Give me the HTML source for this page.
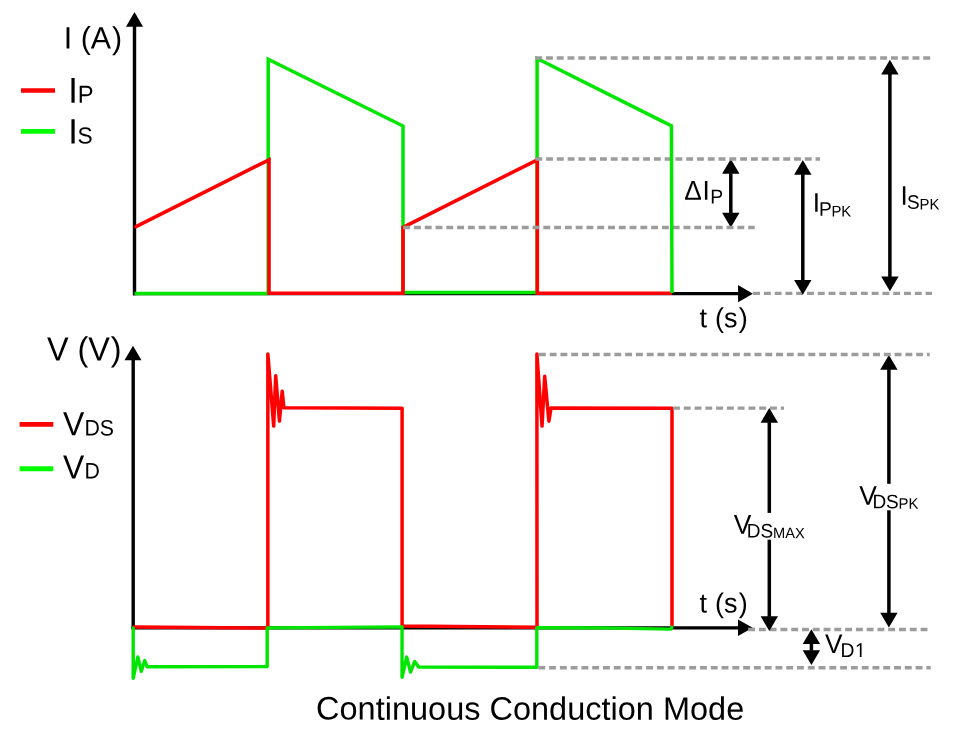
<!DOCTYPE html>
<html>
<head>
<meta charset="utf-8">
<title>Continuous Conduction Mode</title>
<style>
html,body{margin:0;padding:0;background:#fff;}
body{width:964px;height:732px;overflow:hidden;}
svg{display:block;will-change:transform;}
text{font-family:"Liberation Sans",Arial,Helvetica,sans-serif;fill:#000;font-kerning:none;}
</style>
</head>
<body>
<svg width="964" height="732" viewBox="0 0 964 732">
<rect width="964" height="732" fill="#fff"/>
<g id="axes">
<path d="M134.5 295.2 L134.5 26" fill="none" stroke="#000" stroke-width="3.4" stroke-linejoin="miter" stroke-linecap="butt"/>
<path d="M134.5 12 L143 26.8 L126 26.8Z" fill="#000"/>
<path d="M133 293.6 L738.5 293.6" fill="none" stroke="#000" stroke-width="3.4" stroke-linejoin="miter" stroke-linecap="butt"/>
<path d="M752.9 293.65 L738.05 302.25 L738.05 285.05Z" fill="#000"/>
<path d="M133.2 629.5 L133.2 360" fill="none" stroke="#000" stroke-width="3.4" stroke-linejoin="miter" stroke-linecap="butt"/>
<path d="M133 345.7 L141.5 360.3 L124.5 360.3Z" fill="#000"/>
<path d="M131.6 627.9 L738.5 627.9" fill="none" stroke="#000" stroke-width="3.4" stroke-linejoin="miter" stroke-linecap="butt"/>
<path d="M752.7 627.8 L738 636.1 L738 619.5Z" fill="#000"/>
</g>
<g id="current">
<path d="M134.5 293.6 L268.2 293.6 L268.2 59.3 L403 126 L403 292.4 L537.1 292.4 L537.1 58.5 L661 120.59" fill="none" stroke="#00e600" stroke-width="3.5" stroke-linejoin="miter" stroke-linecap="butt"/>
<path d="M134.5 227.4 L269 159.8 L269 293.2 L403 293.2 L403 227.4 L537.3 159.8 L537.3 293.3 L671.9 293.3" fill="none" stroke="#ff0000" stroke-width="3.6" stroke-linejoin="miter" stroke-linecap="butt"/>
</g>
<g id="voltage">
<path d="M134.2 626.95 L267.85 628 L267.85 353.9 L273.7 426.1 L275.7 375.8 L279.45 421 L282.2 391.2 L283.9 407.85 L402.1 408.3 L402.1 625.95 L537 627.2 L536.9 353.9 L542.05 426.1 L544.7 376.3 L548.9 421.2 L551 408.1 L672 408.2 L672 625.8" fill="none" stroke="#ff0000" stroke-width="3.5" stroke-linejoin="round" stroke-linecap="round"/>
<path d="M133.2 627.9 L133.2 678.3 L137.8 657 L141.3 671.3 L144.75 660.6 L147 666.7 L267.2 666.6 L267.2 627.9 L402.05 626.9 L402.05 677.3 L406.7 657.1 L410.5 672.1 L414.7 661.5 L418.6 667 L536.8 667.3 L536.8 627.6 L600 627.9 L670.7 629.1 L671.7 627.3" fill="none" stroke="#00e600" stroke-width="3.4" stroke-linejoin="round" stroke-linecap="round"/>
</g>
<g id="dims-a">
<path d="M730.8 159.1 L739.5 173.8 L722.1 173.8Z" fill="#000"/>
<path d="M730.8 227.4 L722.1 212.7 L739.5 212.7Z" fill="#000"/>
<path d="M730.8 173.3 L730.8 213.2" fill="none" stroke="#000" stroke-width="3.5" stroke-linejoin="miter" stroke-linecap="butt"/>
<path d="M889.9 59.8 L898.6 74.5 L881.2 74.5Z" fill="#000"/>
<path d="M889.9 291.3 L881.2 276.6 L898.6 276.6Z" fill="#000"/>
<path d="M889.9 74 L889.9 277.1" fill="none" stroke="#000" stroke-width="3.5" stroke-linejoin="miter" stroke-linecap="butt"/>
<path d="M888.9 355 L897.6 369.7 L880.2 369.7Z" fill="#000"/>
<path d="M888.9 627.4 L880.2 612.7 L897.6 612.7Z" fill="#000"/>
<path d="M888.9 369.2 L888.9 483.8" fill="none" stroke="#000" stroke-width="3.5" stroke-linejoin="miter" stroke-linecap="butt"/>
<path d="M888.9 510.3 L888.9 613.2" fill="none" stroke="#000" stroke-width="3.5" stroke-linejoin="miter" stroke-linecap="butt"/>
<path d="M811.4 629.2 L820.1 643.9 L802.7 643.9Z" fill="#000"/>
<path d="M811.4 665 L802.7 650.3 L820.1 650.3Z" fill="#000"/>
<path d="M811.4 643.4 L811.4 650.8" fill="none" stroke="#000" stroke-width="3.5" stroke-linejoin="miter" stroke-linecap="butt"/>
</g>
<g id="dashes">
<path d="M535.2 58 L930.6 58" fill="none" stroke="#9c9c9c" stroke-width="3.4" stroke-linejoin="miter" stroke-linecap="butt" stroke-dasharray="6.9 3.88"/>
<path d="M535.3 159 L820 159" fill="none" stroke="#9c9c9c" stroke-width="3.4" stroke-linejoin="miter" stroke-linecap="butt" stroke-dasharray="6.9 3.88"/>
<path d="M403.2 227.5 L754.7 227.5" fill="none" stroke="#9c9c9c" stroke-width="3.4" stroke-linejoin="miter" stroke-linecap="butt" stroke-dasharray="6.9 3.88"/>
<path d="M753.1 293.4 L931.9 293.4" fill="none" stroke="#9c9c9c" stroke-width="3.4" stroke-linejoin="miter" stroke-linecap="butt" stroke-dasharray="6.9 3.88"/>
<path d="M538.9 354.5 L929.7 354.5" fill="none" stroke="#9c9c9c" stroke-width="3.4" stroke-linejoin="miter" stroke-linecap="butt" stroke-dasharray="6.9 3.88"/>
<path d="M673 408.1 L784.05 408.1" fill="none" stroke="#9c9c9c" stroke-width="3.4" stroke-linejoin="miter" stroke-linecap="butt" stroke-dasharray="6.9 3.88"/>
<path d="M748.1 629.55 L927.8 629.55" fill="none" stroke="#9c9c9c" stroke-width="3.4" stroke-linejoin="miter" stroke-linecap="butt" stroke-dasharray="6.9 3.88"/>
<path d="M538.3 667.8 L930.7 667.8" fill="none" stroke="#9c9c9c" stroke-width="3.4" stroke-linejoin="miter" stroke-linecap="butt" stroke-dasharray="6.9 3.88"/>
</g>
<g id="dims-b">
<path d="M802.8 160 L811.5 174.7 L794.1 174.7Z" fill="#000"/>
<path d="M802.8 294.75 L794.1 280.05 L811.5 280.05Z" fill="#000"/>
<path d="M802.8 174.2 L802.8 280.55" fill="none" stroke="#000" stroke-width="3.5" stroke-linejoin="miter" stroke-linecap="butt"/>
<path d="M769.3 408 L778 422.7 L760.6 422.7Z" fill="#000"/>
<path d="M769.3 631 L760.6 616.3 L778 616.3Z" fill="#000"/>
<path d="M769.3 422.2 L769.3 512.9" fill="none" stroke="#000" stroke-width="3.5" stroke-linejoin="miter" stroke-linecap="butt"/>
<path d="M769.3 539.7 L769.3 616.8" fill="none" stroke="#000" stroke-width="3.5" stroke-linejoin="miter" stroke-linecap="butt"/>
<path d="M660 120.09 L671.4 125.8 L672 293" fill="none" stroke="#00e600" stroke-width="3.5" stroke-linejoin="miter" stroke-linecap="butt"/>
</g>
<g id="legend">
<path d="M21 90.5 L55 90.5" fill="none" stroke="#ff0000" stroke-width="4.6" stroke-linejoin="miter" stroke-linecap="butt"/>
<path d="M21 131.45 L55 131.45" fill="none" stroke="#00ff00" stroke-width="4.7" stroke-linejoin="miter" stroke-linecap="butt"/>
<path d="M19.6 424.35 L53.3 424.35" fill="none" stroke="#ff0000" stroke-width="4.7" stroke-linejoin="miter" stroke-linecap="butt"/>
<path d="M19.6 468.75 L53.3 468.75" fill="none" stroke="#00ff00" stroke-width="4.8" stroke-linejoin="miter" stroke-linecap="butt"/>
</g>
<g id="labels">
<text transform="matrix(1 0.0006 0 1.02 63.75 48.6)" font-size="30.4" dx="0 0 0 0 0.9">I (A)</text>
<text transform="matrix(1 0.0006 0 1.04 68.2 102.85)" font-size="34.6">I<tspan x="9.55" y="-0.01" font-size="23.7">P</tspan></text>
<text transform="matrix(1 0.0006 0 1.02 68.2 143.55)" font-size="34.6">I<tspan x="9.4" y="-0.05" font-size="22.8">S</tspan></text>
<text transform="matrix(1 0.0006 0 1.035 46.9 360.45)" font-size="32.4" dx="0 0 0 0 0.9">V (V)</text>
<text transform="matrix(1 0.0006 0 1.05 62.9 435.2)" font-size="31.9">V<tspan x="21.5" y="0.18" font-size="21.3">DS</tspan></text>
<text transform="matrix(1 0.0006 0 1.05 62.9 478.4)" font-size="31.9">V<tspan x="21.5" y="-0.01" font-size="21.3">D</tspan></text>
<text transform="matrix(1 0.0006 0 1.02 699.6 327.3)" font-size="27" dx="0 0 0.45 0 1.15">t (s)</text>
<text transform="matrix(1 0.0006 0 1.02 699.6 612.4)" font-size="27" dx="0 0 0.45 0 1.15">t (s)</text>
<text transform="matrix(1 0.0006 0 1 316.05 719.6)" font-size="32.5">Continuous Conduction Mode</text>
<text transform="matrix(1 0.0006 0 1.04 684.35 199.7)" font-size="26.3">Δ<tspan x="18.17" y="-0.01" font-size="26.3">I</tspan><tspan x="25.95" y="3.54" font-size="19.4">P</tspan></text>
<text transform="matrix(1 0.0006 0 1.03 812.65 211.8)" font-size="26.2">I<tspan x="6.35" y="3.73" font-size="19.2">P</tspan><tspan x="18.8" y="4.65" font-size="14.9">PK</tspan></text>
<text transform="matrix(1 0.0006 0 1.03 900.55 204.8)" font-size="26.2">I<tspan x="6.35" y="3.88" font-size="19">S</tspan><tspan x="18.95" y="4.55" font-size="14.9">PK</tspan></text>
<text transform="matrix(1 0.0006 0 1.03 733.7 533.7)" font-size="26.4">V<tspan x="13" y="3.63" font-size="19">DS</tspan><tspan x="39.35" y="4.25" font-size="14.6">MAX</tspan></text>
<text transform="matrix(1 0.0006 0 1.025 859.15 504.8)" font-size="26.4">V<tspan x="13.25" y="3.31" font-size="19">DS</tspan><tspan x="39.45" y="3.73" font-size="14.9">PK</tspan></text>
<text transform="matrix(1 0.0006 0 1.03 825.1 652.95)" font-size="26.2">V<tspan x="15.3" y="3.83" font-size="19.3">D</tspan><tspan x="29.85" y="3.82" font-size="19.3">1</tspan></text>
<path d="M855.5 655H859.75V658H855.5ZM861.55 655H866V658H861.55Z" fill="#fff"/>
</g>
</svg>
</body>
</html>
